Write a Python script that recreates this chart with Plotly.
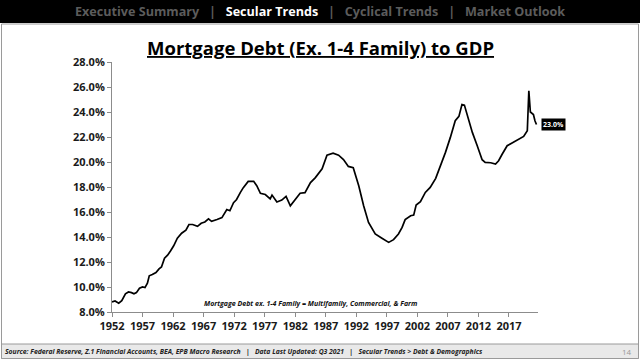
import plotly.graph_objects as go

# ---- data ----
years = [1952.0, 1952.5, 1953.1, 1953.6, 1954.2, 1954.7, 1955.2, 1955.6, 1956.0, 1956.5,
         1957.0, 1957.4, 1957.8, 1958.1, 1958.6, 1959.2, 1959.7, 1960.1, 1960.6, 1961.1,
         1961.6, 1962.1, 1962.7, 1963.4, 1964.1, 1964.6, 1965.2, 1966.0, 1966.6, 1967.2,
         1967.8, 1968.3, 1969.2, 1970.0, 1970.8, 1971.3, 1971.9, 1972.4, 1973.0, 1973.5,
         1974.3, 1975.2, 1975.7, 1976.3, 1977.1, 1977.9, 1978.2, 1979.0, 1979.8, 1980.5,
         1981.2, 1982.0, 1982.8, 1983.6, 1984.5, 1985.3, 1986.4, 1987.2, 1988.2, 1989.1,
         1989.9, 1990.7, 1991.5, 1992.4, 1993.2, 1994.0, 1995.1, 1996.2, 1997.3, 1998.1,
         1998.9, 1999.5, 2000.0, 2000.9, 2001.4, 2001.8, 2002.5, 2003.3, 2004.1, 2005.0,
         2005.8, 2006.6, 2007.4, 2008.2, 2008.8, 2009.3, 2009.7, 2010.2, 2011.0, 2011.8,
         2012.6, 2013.1, 2014.0, 2014.8, 2015.3, 2015.9, 2016.7, 2017.5, 2018.3, 2019.4,
         2020.0, 2020.25, 2020.5, 2020.75, 2021.0, 2021.25, 2021.5]
values = [8.80, 8.88, 8.70, 8.90, 9.45, 9.60, 9.55, 9.45, 9.55, 9.90,
          10.00, 9.95, 10.30, 10.90, 11.00, 11.15, 11.45, 11.60, 12.30, 12.55,
          12.90, 13.30, 13.90, 14.30, 14.55, 15.00, 15.00, 14.85, 15.10, 15.20,
          15.45, 15.25, 15.40, 15.55, 16.20, 16.10, 16.75, 17.00, 17.55, 17.95,
          18.45, 18.45, 18.10, 17.50, 17.40, 17.05, 17.35, 16.80, 16.95, 17.25,
          16.50, 17.05, 17.50, 17.55, 18.35, 18.75, 19.45, 20.55, 20.70, 20.55,
          20.20, 19.65, 19.55, 18.10, 16.50, 15.17, 14.24, 13.90, 13.57, 13.79,
          14.24, 14.77, 15.39, 15.70, 15.75, 16.56, 16.82, 17.57, 17.97, 18.69,
          19.70, 20.77, 21.97, 23.30, 23.65, 24.60, 24.55, 23.70, 22.37, 21.30,
          20.18, 19.97, 19.94, 19.84, 20.10, 20.64, 21.30, 21.52, 21.76, 22.05,
          22.50, 25.70, 24.00, 23.90, 23.80, 23.30, 23.00]
ytick_vals = [8, 10, 12, 14, 16, 18, 20, 22, 24, 26, 28]
ytick_text = ["8.0%", "10.0%", "12.0%", "14.0%", "16.0%", "18.0%", "20.0%",
              "22.0%", "24.0%", "26.0%", "28.0%"]
xtick_vals = [1952, 1957, 1962, 1967, 1972, 1977, 1982, 1987, 1992, 1997, 2002, 2007, 2012, 2017]
xtick_text = [str(v) for v in xtick_vals]
last_label = "23.0%"

title_text = "Mortgage Debt (Ex. 1-4 Family) to GDP"
note_text = "Mortgage Debt ex. 1-4 Family = Multifamily, Commercial, & Farm"
footer_text = ("Source: Federal Reserve, Z.1 Financial Accounts, BEA, EPB Macro Research"
               "\u00a0\u00a0\u00a0|\u00a0\u00a0\u00a0Data Last Updated: Q3 2021"
               "\u00a0\u00a0\u00a0|\u00a0\u00a0\u00a0Secular Trends > Debt & Demographics")
nav_items = ["Executive Summary", "Secular Trends", "Cyclical Trends", "Market Outlook"]
nav_active = "Secular Trends"
page_num = "14"

# ---- layout geometry ----
W, H = 640, 360
L, R, T, B = 112, 102, 62, 48
pw, ph = W - L - R, H - T - B


def px(x):
    return (x - L) / pw


def py(y):
    return (H - B - y) / ph


FONT = "Open Sans"

fig = go.Figure()
fig.add_trace(go.Scatter(x=years, y=values, mode="lines",
                         line=dict(color="black", width=1.7), hoverinfo="skip",
                         showlegend=False))

shapes = [
    dict(type="rect", xref="paper", yref="paper", x0=px(-2), x1=px(W + 2), y0=py(23), y1=py(-2),
         fillcolor="black", line=dict(width=0), layer="below"),
    dict(type="rect", xref="paper", yref="paper", x0=px(1.5), x1=px(638.5), y0=py(358.5), y1=py(24),
         fillcolor="rgba(0,0,0,0)", line=dict(color="#9a9a9a", width=1), layer="below"),
    dict(type="rect", xref="paper", yref="paper", x0=px(1.5), x1=px(638.5), y0=py(358.5), y1=py(344),
         fillcolor="#e9e9e9", line=dict(color="#9a9a9a", width=1), layer="below"),
]

sep = "\u00a0\u00a0\u00a0|\u00a0\u00a0\u00a0"
parts = []
for item in nav_items:
    col = "#ffffff" if item == nav_active else "#5c5c5c"
    parts.append(f"<span style='color:{col}'>{item}</span>")
nav_html = f"<span style='color:#5c5c5c'>{sep}</span>".join(parts)

annotations = [
    dict(xref="paper", yref="paper", x=px(320), y=py(11), text=f"<b>{nav_html}</b>",
         showarrow=False, xanchor="center", yanchor="middle",
         font=dict(family=FONT, size=12.6, color="#5c5c5c")),
    dict(xref="paper", yref="paper", x=px(320), y=py(48), text=f"<b><u>{title_text}</u></b>",
         showarrow=False, xanchor="center", yanchor="middle",
         font=dict(family=FONT, size=18.5, color="black")),
    dict(xref="paper", yref="paper", x=px(310), y=py(303), text=f"<b><i>{note_text}</i></b>",
         showarrow=False, xanchor="center", yanchor="middle",
         font=dict(family=FONT, size=7, color="#111")),
    dict(xref="paper", yref="paper", x=px(3), y=py(351), text=f"<b><i>{footer_text}</i></b>",
         showarrow=False, xanchor="left", yanchor="middle",
         font=dict(family=FONT, size=6.8, color="#222")),
    dict(xref="paper", yref="paper", x=px(627), y=py(351), text=page_num,
         showarrow=False, xanchor="center", yanchor="middle",
         font=dict(family=FONT, size=8, color="#999")),
    dict(x=years[-1], y=values[-1], xref="x", yref="y", text=f"<b>{last_label}</b>",
         showarrow=False, xanchor="left", yanchor="middle", xshift=5,
         bgcolor="black", borderpad=1,
         font=dict(family=FONT, size=7, color="white")),
]

axis_common = dict(showgrid=False, zeroline=False, showline=True, linecolor="#8c8c8c",
                   linewidth=1, ticks="outside", ticklen=4, tickcolor="#8c8c8c",
                   tickfont=dict(family=FONT, size=11, color="#1a1a1a", weight="bold"))

fig.update_layout(
    width=W, height=H, margin=dict(l=L, r=R, t=T, b=B),
    paper_bgcolor="white", plot_bgcolor="white",
    xaxis=dict(range=[1952, 2021.75], tickmode="array", tickvals=xtick_vals,
               ticktext=xtick_text, **axis_common),
    yaxis=dict(range=[8, 28], tickmode="array", tickvals=ytick_vals,
               ticktext=ytick_text, **axis_common),
    shapes=shapes, annotations=annotations, showlegend=False,
)

fig.write_html("out.html", config={"displayModeBar": False},
               post_script="document.body.style.margin='0px';document.body.style.overflow='hidden';")
